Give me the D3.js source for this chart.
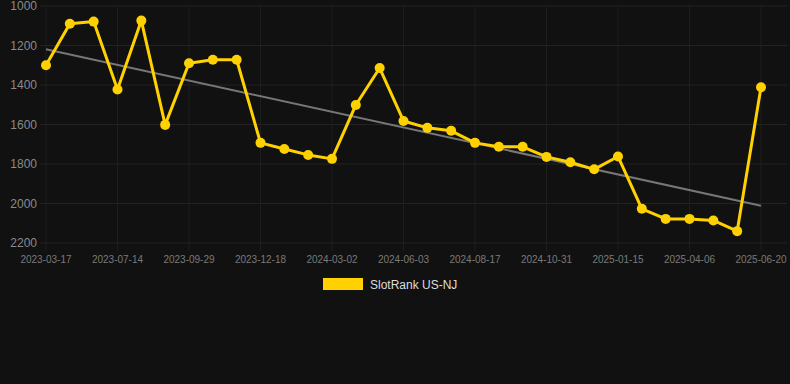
<!DOCTYPE html>
<html>
<head>
<meta charset="utf-8">
<script src="https://cdn.jsdelivr.net/npm/d3@7"></script>
<style>
  html, body { margin: 0; padding: 0; background: #111111; }
  #chart { width: 790px; height: 384px; }
  text { font-family: "Helvetica Neue", Helvetica, Arial, "Liberation Sans", sans-serif; }
</style>
</head>
<body>
<div id="chart"></div>
<script>
// category dates (only every third one is labelled on the axis)
const dates = [
  '2023-03-17', '2023-04-26', '2023-06-04', '2023-07-14', '2023-08-08', '2023-09-03',
  '2023-09-29', '2023-10-26', '2023-11-22', '2023-12-18', '2024-01-11', '2024-02-06',
  '2024-03-02', '2024-03-28', '2024-05-08', '2024-06-03', '2024-06-28', '2024-07-23',
  '2024-08-17', '2024-09-10', '2024-10-06', '2024-10-31', '2024-11-25', '2024-12-21',
  '2025-01-15', '2025-02-10', '2025-03-11', '2025-04-06', '2025-04-30', '2025-05-26',
  '2025-06-20'
]
const rankValues = [
  1300, 1090, 1079, 1423, 1074, 1602, 1290, 1272, 1272, 1693, 1724, 1754,
  1774, 1501, 1314, 1582, 1617, 1632, 1693, 1713, 1713, 1764, 1791, 1827,
  1762, 2027, 2078, 2078, 2086, 2140, 1411
]
const yTicks = [1000, 1200, 1400, 1600, 1800, 2000, 2200]
const seriesName = 'SlotRank US-NJ'

const width = 790
const height = 384
const plotLeft = 46
const plotRight = 761
const plotTop = 6
const plotBottom = 243

const svg = d3.select('#chart')
  .append('svg')
  .attr('width', width)
  .attr('height', height)
  .attr('viewBox', `0 0 ${width} ${height}`)

const x = d3.scalePoint()
  .domain(dates)
  .range([plotLeft, plotRight])

const y = d3.scaleLinear()
  .domain([1000, 2200])
  .range([plotTop, plotBottom])

// grid
const grid = svg.append('g').attr('class', 'grid')

grid.selectAll('line.h')
  .data(yTicks)
  .enter()
  .append('line')
  .attr('class', 'h')
  .attr('x1', plotLeft - 6)
  .attr('x2', 787)
  .attr('y1', d => y(d))
  .attr('y2', d => y(d))
  .attr('stroke', '#232323')
  .attr('stroke-width', 1)

const labelled = dates.filter((d, i) => i % 3 === 0)

grid.selectAll('line.v')
  .data(labelled)
  .enter()
  .append('line')
  .attr('class', 'v')
  .attr('x1', d => x(d))
  .attr('x2', d => x(d))
  .attr('y1', plotTop)
  .attr('y2', plotBottom + 8)
  .attr('stroke', '#1e1e1e')
  .attr('stroke-width', 1)

// y axis labels
svg.append('g')
  .selectAll('text')
  .data(yTicks)
  .enter()
  .append('text')
  .attr('x', 37)
  .attr('y', d => y(d))
  .attr('dy', '0.35em')
  .attr('text-anchor', 'end')
  .attr('fill', '#8a8a8a')
  .attr('font-size', 12)
  .text(d => d)

// x axis labels
svg.append('g')
  .selectAll('text')
  .data(labelled)
  .enter()
  .append('text')
  .attr('x', d => x(d))
  .attr('y', 259)
  .attr('dy', '0.35em')
  .attr('text-anchor', 'middle')
  .attr('fill', '#7a7a7a')
  .attr('font-size', 10)
  .text(d => d)

// trend line (least squares over the series)
const n = rankValues.length
const idx = d3.range(n)
const mx = d3.mean(idx)
const my = d3.mean(rankValues)
const slope = d3.sum(idx, i => (i - mx) * (rankValues[i] - my)) / d3.sum(idx, i => (i - mx) ** 2)
const intercept = my - slope * mx

svg.append('line')
  .attr('x1', x(dates[0]))
  .attr('y1', y(intercept))
  .attr('x2', x(dates[n - 1]))
  .attr('y2', y(intercept + slope * (n - 1)))
  .attr('stroke', '#777777')
  .attr('stroke-width', 2)

// series
const line = d3.line()
  .x((d, i) => x(dates[i]))
  .y(d => y(d))

svg.append('path')
  .datum(rankValues)
  .attr('d', line)
  .attr('fill', 'none')
  .attr('stroke', '#FFD100')
  .attr('stroke-width', 3)
  .attr('stroke-linejoin', 'round')

svg.append('g')
  .selectAll('circle')
  .data(rankValues)
  .enter()
  .append('circle')
  .attr('cx', (d, i) => x(dates[i]))
  .attr('cy', d => y(d))
  .attr('r', 5)
  .attr('fill', '#FFD100')

// legend
const legend = svg.append('g')
legend.append('rect')
  .attr('x', 323)
  .attr('y', 278)
  .attr('width', 40)
  .attr('height', 12)
  .attr('fill', '#FFD100')
legend.append('text')
  .attr('x', 370)
  .attr('y', 284.5)
  .attr('dy', '0.35em')
  .attr('fill', '#dddddd')
  .attr('font-size', 12)
  .text(seriesName)
</script>
</body>
</html>
